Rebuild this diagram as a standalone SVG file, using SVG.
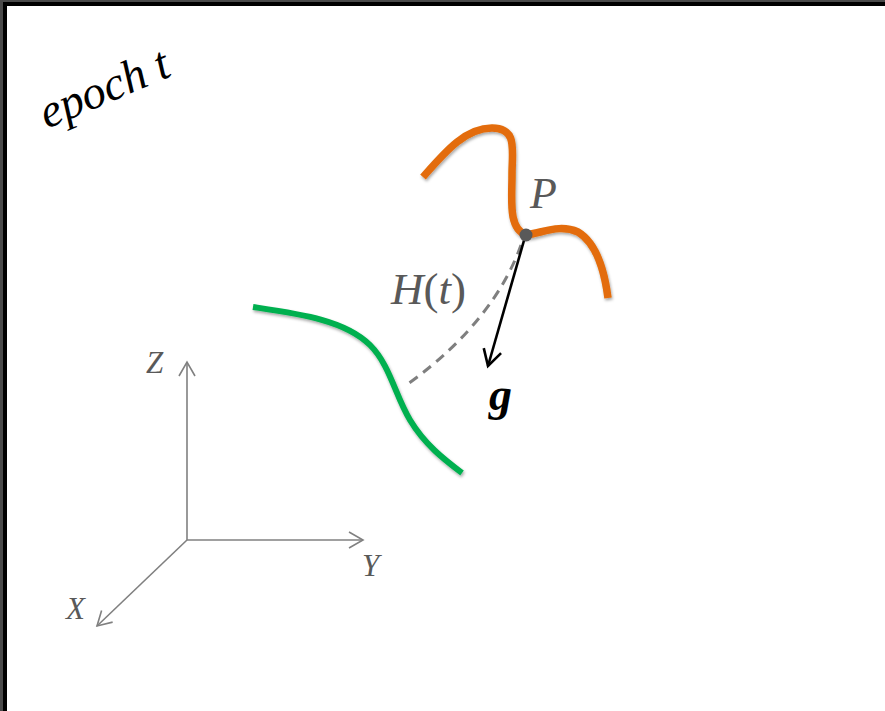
<svg xmlns="http://www.w3.org/2000/svg" width="885" height="711" viewBox="0 0 885 711">
<style>
.lbl{font-family:"Liberation Serif","DejaVu Serif",serif;font-style:italic;fill:#595959}
.ax{stroke:#808080;stroke-width:1.6;fill:none}
.curve{fill:none;stroke-linecap:butt;filter:url(#sh)}
</style>
<defs>
<filter id="sh" x="-20%" y="-20%" width="140%" height="140%">
<feDropShadow dx="1" dy="2" stdDeviation="1.5" flood-color="#000" flood-opacity="0.35"/>
</filter>
<marker id="ga" markerWidth="20" markerHeight="20" refX="16" refY="10" orient="auto" markerUnits="userSpaceOnUse">
<polyline points="2,2 16,10 2,18" fill="none" stroke="#808080" stroke-width="1.6"/>
</marker>
<marker id="ba" markerWidth="24" markerHeight="24" refX="19" refY="12" orient="auto" markerUnits="userSpaceOnUse">
<polyline points="3,3 19,12 3,21" fill="none" stroke="#000" stroke-width="2.6"/>
</marker>
</defs>
<rect x="0" y="0" width="885" height="711" fill="#4a4a4a"/>
<rect x="3" y="2" width="882" height="709" fill="#000"/>
<rect x="7" y="6" width="878" height="705" fill="#fff"/>

<text x="0" y="0" font-family="Liberation Serif, serif" font-style="italic" font-size="47" fill="#000" transform="translate(47,129) rotate(-23)">epoch t</text>

<g id="orange-curve">
<path class="curve" d="M423,177 C445,152 465,128 492,128 C518,128 512,150 512,175 C512,200 508,228 526,235 C545,232 560,224 578,232 C598,244 605,275 608,298" stroke="#e36c09" stroke-width="7.5"/>
</g>
<g id="green-curve">
<path class="curve" d="M253,307 C300,314 345,320 370,345 C390,365 395,395 410,420 C425,445 445,460 462,473" stroke="#00b050" stroke-width="6"/>
</g>

<g id="connectors">
<path d="M521,245 C505,290 470,340 405,386" fill="none" stroke="#7f7f7f" stroke-width="3" stroke-dasharray="10,7"/>
<line x1="525" y1="237" x2="488" y2="366" stroke="#000" stroke-width="2.6" marker-end="url(#ba)"/>
</g>

<g id="point-P">
<circle cx="526" cy="235" r="6.5" fill="#595959"/>
<text class="lbl" x="530" y="208" font-size="44">P</text>
</g>
<g id="label-H">
<text class="lbl" x="391" y="304" font-size="45">H<tspan font-style="normal">(</tspan>t<tspan font-style="normal">)</tspan></text>
</g>
<g id="label-g">
<text x="489" y="410" font-size="46" font-family="Liberation Serif, serif" font-style="italic" font-weight="bold" fill="#000">g</text>
</g>

<g id="axes">
<line class="ax" x1="187" y1="540" x2="187" y2="362" marker-end="url(#ga)"/>
<line class="ax" x1="187" y1="540" x2="363" y2="540" marker-end="url(#ga)"/>
<line class="ax" x1="187" y1="540" x2="97" y2="626" marker-end="url(#ga)"/>
<text class="lbl" x="146" y="373" font-size="31">Z</text>
<text class="lbl" x="362" y="576" font-size="31">Y</text>
<text class="lbl" x="66" y="619" font-size="31">X</text>
</g>
</svg>
